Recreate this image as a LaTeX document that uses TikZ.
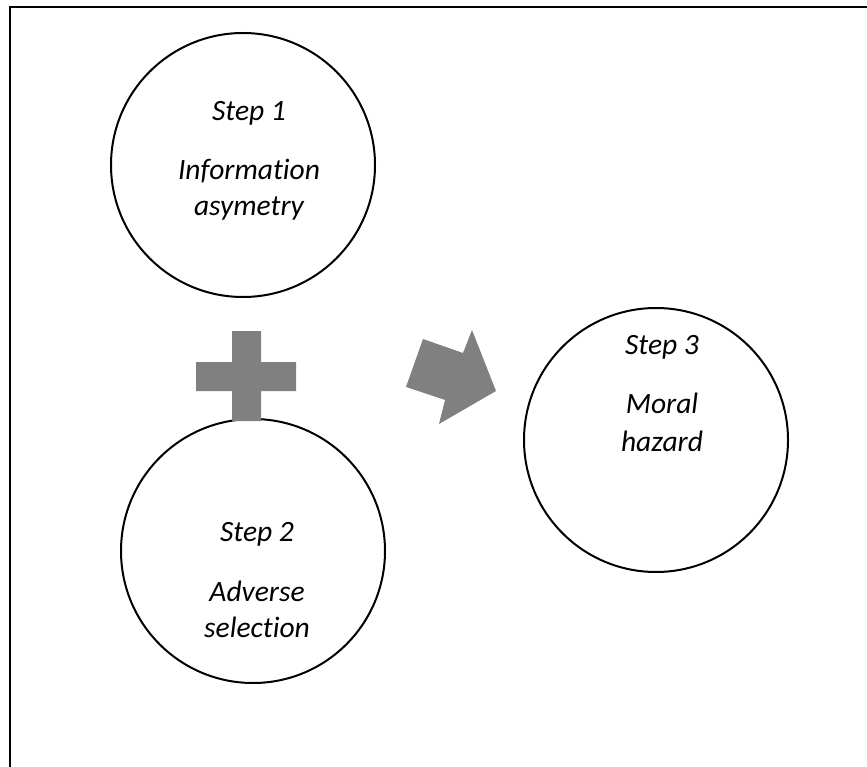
\documentclass[tikz,border=0pt]{standalone}
\usepackage{fontspec}
\setmainfont[Ligatures={NoCommon}]{Carlito}
\begin{document}
\begin{tikzpicture}[x=1pt,y=-1pt,
  stepcircle/.style={circle,draw=black,line width=2pt,minimum size=264pt,inner sep=0pt},
  steptext/.style={anchor=base,inner sep=0pt,font=\fontsize{29.5}{35}\selectfont\itshape},
  shapefill/.style={fill=black!50,draw=none}]
\useasboundingbox (0,0) rectangle (867,767);
% frame (only top and left edges visible)
\draw[line width=2pt] (10,767) -- (10,7) -- (867,7);
% circles
\node[stepcircle] (c1) at (243,165) {};
\node[stepcircle] (c2) at (253,551) {};
\node[stepcircle] (c3) at (656,440) {};
% texts
\node[steptext] (t1a) at (249,121) {Step 1};
\node[steptext] (t1b) at (249,180) {Information};
\node[steptext] (t1c) at (249,216) {asymetry};
\node[steptext] (t2a) at (257,541) {Step 2};
\node[steptext] (t2b) at (257,601) {Adverse};
\node[steptext] (t2c) at (257,637) {selection};
\node[steptext] (t3a) at (662,354) {Step 3};
\node[steptext] (t3b) at (662,413) {Moral};
\node[steptext] (t3c) at (662,451) {hazard};
% plus sign
\fill[shapefill] (232,331) -- (261,331) -- (261,362) -- (296,362) -- (296,391) -- (261,391) -- (261,421) -- (232,421) -- (232,391) -- (196,391) -- (196,362) -- (232,362) -- cycle;
% block arrow
\fill[shapefill] (406,387) -- (423,339) -- (463,353) -- (472,330) -- (496,391) -- (439,424) -- (445,400) -- cycle;
\end{tikzpicture}
\end{document}
